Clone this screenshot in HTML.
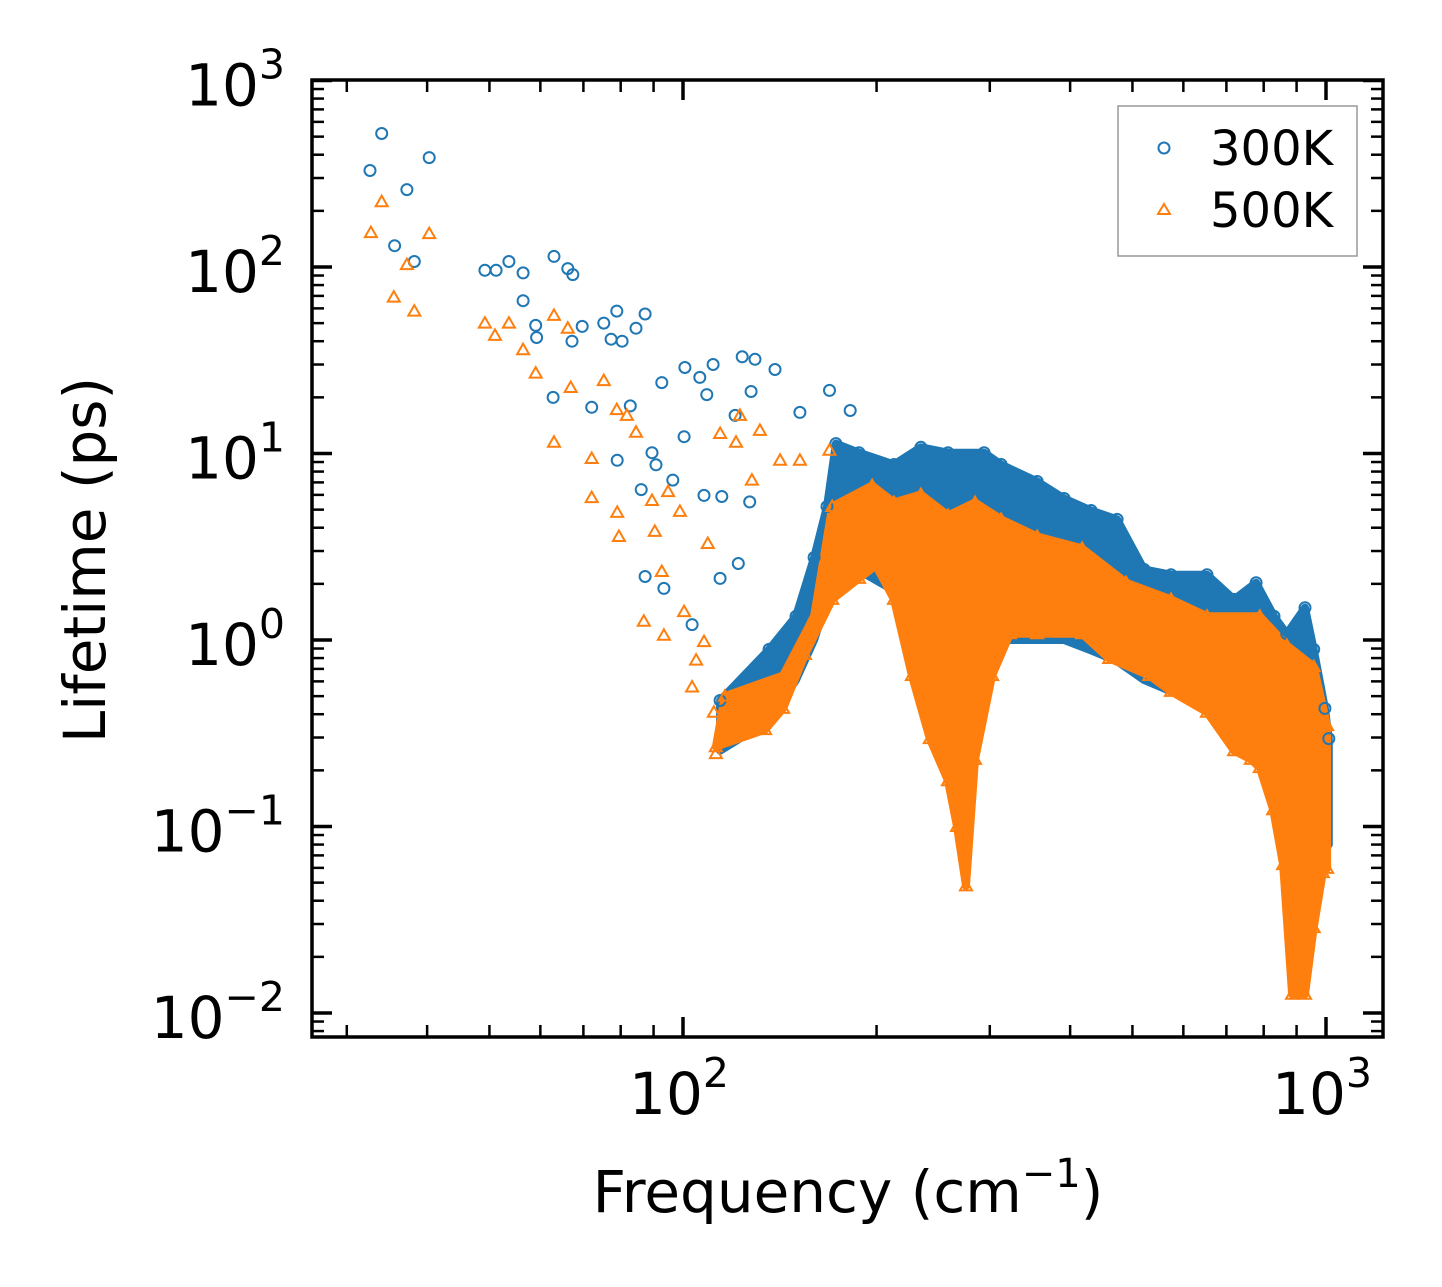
<!DOCTYPE html>
<html><head><meta charset="utf-8"><style>
html,body{margin:0;padding:0;background:#fff;}
svg{display:block;font-family:"DejaVu Sans","Liberation Sans",sans-serif;}
</style></head><body>
<svg id="chart" width="1442" height="1287" viewBox="0 0 1442 1287" xmlns="http://www.w3.org/2000/svg">
<rect width="1442" height="1287" fill="#fff"/>
<g id="envelopes"></g>
<g id="marks"></g>
<g id="axes"></g>
<text x="848" y="1212" font-size="58" text-anchor="middle">Frequency (cm<tspan font-size="40" dy="-25">−1</tspan><tspan dy="25">)</tspan></text>
<text transform="translate(105,560) rotate(-90)" font-size="58" text-anchor="middle">Lifetime (ps)</text>
<g>
<rect x="1118" y="106" width="239" height="150" fill="#fff" stroke="#999" stroke-width="1.5"/>
<circle cx="1164" cy="148" r="5.5" fill="none" stroke="#1f77b4" stroke-width="2"/>
<text x="1210" y="165" font-size="48">300K</text>
<path d="M1164,204 L1170,214 L1158,214 Z" fill="none" stroke="#ff7f0e" stroke-width="2"/>
<text x="1210" y="227" font-size="48">500K</text>
</g>
</svg>
<script>
// ---- data ----
const blueFreq = [32.6,34.0,35.6,37.2,38.2,40.3,49.2,51.2,53.6,56.4,56.4,59.0,59.2,63.0,62.8,66.2,67.4,67.2,69.7,72.1,75.3,77.3,78.9,79.0,80.4,82.8,84.5,86.1,87.3,87.3,89.5,90.8,92.7,93.4,96.4,100.4,100.7,103.3,106.2,107.8,108.9,111.4,114.2,114.9,120.5,123.6,127.6,129.4,121.9,127,139,152,169,182];
const blueLife = [329,520,130,260,107,386,96,96,107,66,93,48.6,41.9,114,20,98,91,40,48,17.7,50,41,58,9.2,40,18,47,6.4,56,2.19,10.1,8.7,24,1.89,7.2,12.3,28.9,1.21,25.6,5.96,20.7,30,2.14,5.88,16,33,21.5,32,2.57,5.5,28.2,16.6,21.8,17];
const orangeFreq = [32.7,34.0,35.5,37.2,38.2,40.3,49.2,51.0,53.6,56.4,59.0,63.0,63.0,66.2,66.9,72.1,72.1,75.3,78.9,79.0,79.5,81.8,84.5,86.9,89.5,90.4,92.7,93.4,94.8,98.9,100.4,103.3,104.8,107.8,109.3,111.7,112.5,114.2,120.9,122.6,128,131.7,141.6,152,169];
const orangeLife = [153,224,69,103,58,151,50,43,50,36,27,55,11.5,47,22.6,9.4,5.8,24.6,17.2,4.83,3.59,16,13,1.26,5.6,3.82,2.33,1.06,6.25,4.89,1.42,0.56,0.78,0.98,3.29,0.41,0.246,12.8,11.5,16,7.2,13.3,9.2,9.2,10.4];
// dense band boundaries
const blueBandFreq = [114.2,136.1,149.9,159.9,167.5,172.9,187.8,212.9,234.4,258.3,293.9,312.4,355.5,391.5,431.2,473.2,521.2,574.1,653.1,719.5,778.5,830,869,927.4,957,996,1010];
const blueBandUpper = [0.474,0.89,1.34,2.77,5.2,11.3,10.1,8.73,10.8,10.1,10.1,8.73,7.08,5.74,4.95,4.43,2.39,2.24,2.24,1.65,2.03,1.34,1.08,1.49,0.89,0.43,0.296];
const blueBandLower = [0.255,0.37,0.61,1.0,1.63,2.2,2.36,1.84,1.63,1.27,1.0,1.0,1.0,1.0,0.88,0.77,0.61,0.53,0.47,0.37,0.29,0.23,0.23,0.18,0.14,0.11,0.08];
const orangeUpFreq = [116.2,143.1,159.9,170.6,196.8,212.9,234.4,258.3,284.5,312.4,355.5,417.6,488.9,574.1,653.1,789,869,957,1004];
const orangeUpper = [0.50,0.645,1.34,5.2,6.73,5.46,6.03,4.65,5.46,4.43,3.59,3.10,2.03,1.65,1.34,1.34,0.935,0.72,0.348];
const orangeLowFreq = [112.5,134.2,143.1,154.8,170.6,187.8,199.6,212.9,227,242,258.3,266.8,275.5,284.5,302.5,322.5,355.5,417.6,460,530.9,574.1,653.1,719.5,764.1,789,827.7,857.5,885.6,927.4,957,988.6,1004];
const orangeLower = [0.268,0.331,0.43,0.836,1.65,2.14,2.51,1.65,0.645,0.296,0.176,0.1,0.048,0.229,0.645,1.08,1.08,1.08,0.796,0.645,0.53,0.41,0.255,0.229,0.207,0.123,0.0625,0.0126,0.0126,0.0287,0.0566,0.0596];
const xTickLabels = ["2","3"];
const yTickExps = ["3","2","1","0","−1","−2"];

// ---- axes ----
const L=312,R=1383,T=80,B=1037;
const PPD_X=643, X0=683;
const PPD_Y=186.5, Y0=640;
function xs(f){return X0+(Math.log10(f)-2)*PPD_X;}
function ys(v){return Y0-Math.log10(v)*PPD_Y;}
const NS="http://www.w3.org/2000/svg";
function mk(tag,attrs,parent){const e=document.createElementNS(NS,tag);for(const k in attrs)e.setAttribute(k,attrs[k]);parent.appendChild(e);return e;}
const env=document.getElementById('envelopes'), marks=document.getElementById('marks'), axes=document.getElementById('axes');

function band(fu,up,fl,lo,color,name){
  let d='';
  fu.forEach((f,i)=>{d+=(i?'L':'M')+xs(f).toFixed(1)+','+ys(up[i]).toFixed(1);});
  for(let i=fl.length-1;i>=0;i--){d+='L'+xs(fl[i]).toFixed(1)+','+ys(lo[i]).toFixed(1);}
  d+='Z';
  const p=mk('path',{d:d,fill:color,stroke:color,'stroke-width':8,'stroke-linejoin':'round'},env);
  
  
}
function circ(f,v){
  const c=mk('circle',{cx:xs(f).toFixed(1),cy:ys(v).toFixed(1),r:5.5,fill:'none',stroke:'#1f77b4','stroke-width':2},marks);
  
  
}
function tri(f,v){
  const x=xs(f),y=ys(v);
  const t=mk('path',{d:`M${x.toFixed(1)},${(y-6).toFixed(1)} L${(x+6).toFixed(1)},${(y+4.5).toFixed(1)} L${(x-6).toFixed(1)},${(y+4.5).toFixed(1)} Z`,fill:'none',stroke:'#ff7f0e','stroke-width':2},marks);
  
  
}
band(blueBandFreq,blueBandUpper,blueBandFreq,blueBandLower,'#1f77b4','band-300k');
blueFreq.forEach((f,i)=>circ(f,blueLife[i]));
blueBandFreq.forEach((f,i)=>circ(f,blueBandUpper[i]));
band(orangeUpFreq,orangeUpper,orangeLowFreq,orangeLower,'#ff7f0e','band-500k');
orangeFreq.forEach((f,i)=>tri(f,orangeLife[i]));
orangeUpFreq.forEach((f,i)=>tri(f,orangeUpper[i]));
orangeLowFreq.forEach((f,i)=>tri(f,orangeLower[i]));

const fr=mk('rect',{x:L,y:T,width:R-L,height:B-T,fill:'none',stroke:'#000','stroke-width':3.5},axes);


for(let e=1;e<=3;e++){for(let m=1;m<10;m++){
  const f=m*Math.pow(10,e); const x=xs(f); if(x<L||x>R)continue;
  const len=m===1?20:12;
  mk('line',{x1:x,y1:B,x2:x,y2:B-len,stroke:'#000','stroke-width':m===1?3.5:2.5},axes);
  mk('line',{x1:x,y1:T,x2:x,y2:T+len,stroke:'#000','stroke-width':m===1?3.5:2.5},axes);
}}
xTickLabels.forEach(ex=>{
  const x=xs(Math.pow(10,+ex));
  const t=mk('text',{x:x-4,y:1114,'font-size':58,'text-anchor':'middle'},axes);
  
  
  t.innerHTML='10<tspan font-size="41" dy="-27">'+ex+'</tspan>';
});
for(let e=-3;e<=3;e++){for(let m=1;m<10;m++){
  const v=m*Math.pow(10,e); const y=ys(v); if(y<T-1||y>B)continue;
  const len=m===1?20:12;
  mk('line',{x1:L,y1:y,x2:L+len,y2:y,stroke:'#000','stroke-width':m===1?3.5:2.5},axes);
  mk('line',{x1:R,y1:y,x2:R-len,y2:y,stroke:'#000','stroke-width':m===1?3.5:2.5},axes);
}}
yTickExps.forEach(ex=>{
  const n=parseFloat(ex.replace('−','-'));
  const y=ys(Math.pow(10,n));
  const t=mk('text',{x:285,y:y+25,'font-size':58,'text-anchor':'end'},axes);
  
  
  t.innerHTML='10<tspan font-size="41" dy="-27">'+ex+'</tspan>';
});
</script>
</body></html>
